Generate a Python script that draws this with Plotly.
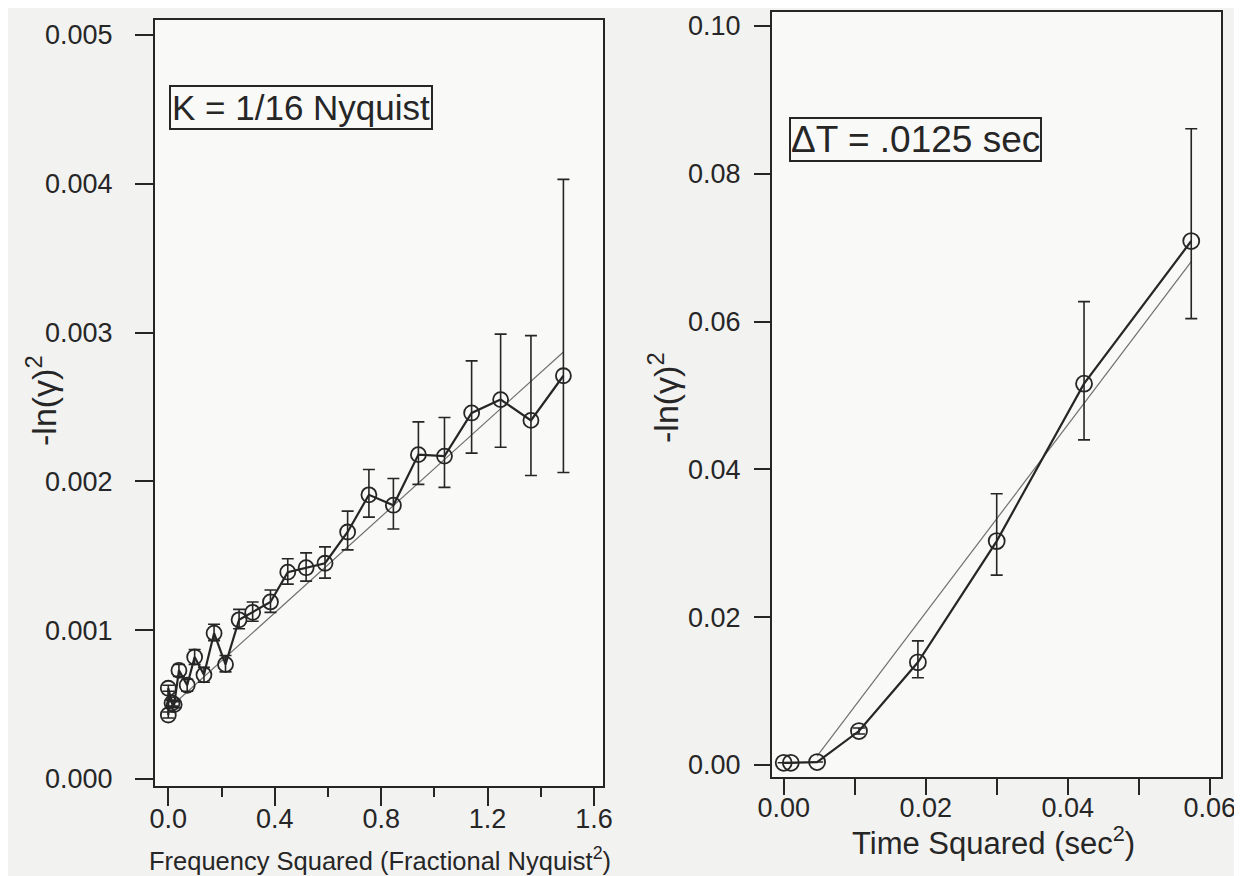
import plotly.graph_objects as go

# ---------------- Left panel data ----------------
freq_sq = [0.000, 0.000, 0.014, 0.022, 0.040, 0.071, 0.099, 0.134, 0.172, 0.215,
           0.266, 0.317, 0.384, 0.449, 0.518, 0.589, 0.674, 0.754, 0.846, 0.940,
           1.038, 1.140, 1.249, 1.363, 1.485]
ln_left = [0.00043, 0.00061, 0.00051, 0.00050, 0.00073, 0.00063, 0.00082, 0.00070, 0.00098, 0.00077,
           0.00107, 0.00112, 0.00119, 0.00139, 0.00142, 0.00145, 0.00166, 0.00191, 0.00184, 0.00218,
           0.00217, 0.00246, 0.00255, 0.00241, 0.00271]
err_left_plus = [0.00002, 0.00002, 0.00002, 0.00002, 0.00004, 0.00004, 0.00005, 0.00005, 0.00006, 0.00006,
                 0.00007, 0.00007, 0.00008, 0.00009, 0.00010, 0.00011, 0.00014, 0.00017, 0.00018, 0.00022,
                 0.00026, 0.00035, 0.00044, 0.00057, 0.00132]
err_left_minus = [0.00002, 0.00002, 0.00002, 0.00002, 0.00004, 0.00004, 0.00005, 0.00005, 0.00005, 0.00005,
                  0.00006, 0.00006, 0.00007, 0.00008, 0.00009, 0.00010, 0.00012, 0.00015, 0.00016, 0.00020,
                  0.00021, 0.00027, 0.00032, 0.00037, 0.00065]
fit_left_x = [0.000, 1.485]
fit_left_y = [0.00047, 0.00287]

# ---------------- Right panel data ----------------
time_sq = [0.0000, 0.0010, 0.0047, 0.0106, 0.0189, 0.0300, 0.0423, 0.0574]
ln_right = [0.0003, 0.0003, 0.0004, 0.0046, 0.0139, 0.0303, 0.0516, 0.0709]
err_right_plus = [0.0, 0.0, 0.0, 0.0004, 0.0029, 0.0064, 0.0111, 0.0152]
err_right_minus = [0.0, 0.0, 0.0, 0.0004, 0.0021, 0.0046, 0.0076, 0.0105]
fit_right_x = [0.0047, 0.0574]
fit_right_y = [0.0012, 0.0681]

left_xticks = [0.0, 0.4, 0.8, 1.2, 1.6]
left_yticks = [0.000, 0.001, 0.002, 0.003, 0.004, 0.005]
right_xticks = [0.00, 0.02, 0.04, 0.06]
right_yticks = [0.00, 0.02, 0.04, 0.06, 0.08, 0.10]

INK = "#262626"
FONT = "Liberation Sans, Arial, Helvetica, sans-serif"
W, H = 1242, 876

fig = go.Figure()

# Left: fit line
fig.add_trace(go.Scatter(x=fit_left_x, y=fit_left_y, mode="lines",
                         line=dict(color="#707070", width=1.2),
                         xaxis="x", yaxis="y", showlegend=False, hoverinfo="skip"))
# Left: data
fig.add_trace(go.Scatter(x=freq_sq, y=ln_left, mode="lines+markers",
                         line=dict(color=INK, width=2.2),
                         marker=dict(symbol="circle-open", size=15, color=INK, line=dict(width=1.8)),
                         error_y=dict(type="data", symmetric=False, array=err_left_plus,
                                      arrayminus=err_left_minus, color=INK, thickness=1.6, width=6),
                         xaxis="x", yaxis="y", showlegend=False))

# Right: fit line
fig.add_trace(go.Scatter(x=fit_right_x, y=fit_right_y, mode="lines",
                         line=dict(color="#707070", width=1.2),
                         xaxis="x2", yaxis="y2", showlegend=False, hoverinfo="skip"))
# Right: data
fig.add_trace(go.Scatter(x=time_sq, y=ln_right, mode="lines+markers",
                         line=dict(color=INK, width=2.2),
                         marker=dict(symbol="circle-open", size=16, color=INK, line=dict(width=1.8)),
                         error_y=dict(type="data", symmetric=False, array=err_right_plus,
                                      arrayminus=err_right_minus, color=INK, thickness=1.6, width=6),
                         xaxis="x2", yaxis="y2", showlegend=False))

axis_common = dict(showline=True, linecolor=INK, linewidth=2, mirror=True, automargin=False,
                   ticks="outside", tickcolor=INK, tickwidth=2, showgrid=False, zeroline=False,
                   tickfont=dict(size=27, color=INK, family=FONT))

fig.update_layout(
    width=W, height=H,
    margin=dict(l=0, r=0, t=0, b=0),
    paper_bgcolor="#f2f2f1",
    plot_bgcolor="#f9f9f8",
    font=dict(family=FONT, color=INK),
    xaxis=dict(domain=[147 / W, 595 / W], range=[-0.050, 1.6338],
               tickvals=left_xticks, tickformat=".1f", ticklen=18, ticklabelstandoff=-10,
               minor=dict(dtick=0.2, tick0=0, ticks="outside", ticklen=9, tickwidth=2, tickcolor=INK),
               anchor="y", **axis_common),
    yaxis=dict(domain=[1 - 778 / H, 1 - 12 / H], range=[-0.000047, 0.005101],
               tickvals=left_yticks, tickformat=".3f", ticklen=18, ticklabelstandoff=17,
               anchor="x", **axis_common),
    xaxis2=dict(domain=[764 / W, 1213 / W], range=[-0.00165, 0.06159],
                tickvals=right_xticks, tickformat=".2f", ticklen=16, ticklabelstandoff=-10,
                minor=dict(dtick=0.01, tick0=0, ticks="outside", ticklen=16, tickwidth=2, tickcolor=INK),
                anchor="y2", **axis_common),
    yaxis2=dict(domain=[1 - 769 / H, 1 - 4 / H], range=[-0.00162, 0.10189],
                tickvals=right_yticks, tickformat=".2f", ticklen=16, ticklabelstandoff=8,
                anchor="x2", **axis_common),
    annotations=[
        # axis titles
        dict(text="-ln(γ)<sup>2</sup>", xref="paper", yref="paper",
             x=33 / W, y=1 - 393 / H, xanchor="center", yanchor="middle", textangle=-90,
             showarrow=False, font=dict(size=34, color=INK, family=FONT)),
        dict(text="-ln(γ)<sup>2</sup>", xref="paper", yref="paper",
             x=655 / W, y=1 - 390 / H, xanchor="center", yanchor="middle", textangle=-90,
             showarrow=False, font=dict(size=34, color=INK, family=FONT)),
        dict(text="Frequency Squared (Fractional Nyquist<sup>2</sup>)", xref="paper", yref="paper",
             x=372 / W, y=1 - 851 / H, xanchor="center", yanchor="middle",
             showarrow=False, font=dict(size=25.5, color=INK, family=FONT)),
        dict(text="Time Squared (sec<sup>2</sup>)", xref="paper", yref="paper",
             x=985 / W, y=1 - 833 / H, xanchor="center", yanchor="middle",
             showarrow=False, font=dict(size=31, color=INK, family=FONT)),
        # boxed labels
        dict(text="K = 1/16 Nyquist", xref="paper", yref="paper",
             x=(163 + 422) / 2 / W, y=1 - 100 / H, xanchor="center", yanchor="middle",
             showarrow=False, font=dict(size=35, color=INK, family=FONT),
             bordercolor=INK, borderwidth=2, borderpad=1, bgcolor="rgba(0,0,0,0)"),
        dict(text="ΔT = .0125 sec", xref="paper", yref="paper",
             x=(780 + 1034) / 2 / W, y=1 - 131 / H, xanchor="center", yanchor="middle",
             showarrow=False, font=dict(size=37, color=INK, family=FONT),
             bordercolor=INK, borderwidth=2, borderpad=0, bgcolor="rgba(0,0,0,0)"),
    ],
)

fig.write_html("out.html")
